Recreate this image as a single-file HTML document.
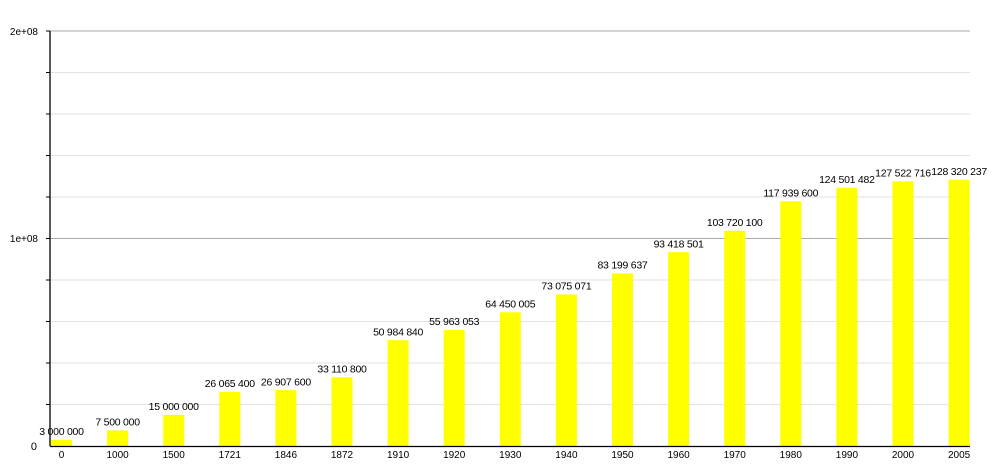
<!DOCTYPE html>
<html><head><meta charset="utf-8"><style>
html,body{margin:0;padding:0;background:#fff;}
svg{display:block;font-family:"Liberation Sans",Arial,sans-serif;}
</style></head><body>
<svg width="1000" height="475" viewBox="0 0 1000 475" xmlns="http://www.w3.org/2000/svg">
<g stroke="#e2e2e2" stroke-width="1">
<line x1="50" y1="404.5" x2="970" y2="404.5"/>
<line x1="50" y1="363" x2="970" y2="363"/>
<line x1="50" y1="321.5" x2="970" y2="321.5"/>
<line x1="50" y1="280" x2="970" y2="280"/>
<line x1="50" y1="197" x2="970" y2="197"/>
<line x1="50" y1="155.5" x2="970" y2="155.5"/>
<line x1="50" y1="114" x2="970" y2="114"/>
<line x1="50" y1="72.5" x2="970" y2="72.5"/>
</g>
<g stroke="#aaa" stroke-width="1">
<line x1="50" y1="238.5" x2="970" y2="238.5"/>
<line x1="50" y1="31" x2="970" y2="31"/>
</g>
<g stroke="#000" stroke-width="1">
<line x1="46" y1="31" x2="50" y2="31"/>
<line x1="46" y1="72.5" x2="50" y2="72.5"/>
<line x1="46" y1="114" x2="50" y2="114"/>
<line x1="46" y1="155.5" x2="50" y2="155.5"/>
<line x1="46" y1="197" x2="50" y2="197"/>
<line x1="46" y1="238.5" x2="50" y2="238.5"/>
<line x1="46" y1="280" x2="50" y2="280"/>
<line x1="46" y1="321.5" x2="50" y2="321.5"/>
<line x1="46" y1="363" x2="50" y2="363"/>
<line x1="46" y1="404.5" x2="50" y2="404.5"/>
</g>
<g fill="#ffff00">
<rect x="51" y="439.8" width="21" height="6.2"/>
<rect x="107.1" y="430.4" width="21" height="15.6"/>
<rect x="163.2" y="414.9" width="21" height="31.1"/>
<rect x="219.3" y="391.9" width="21" height="54.1"/>
<rect x="275.4" y="390.2" width="21" height="55.8"/>
<rect x="331.5" y="377.3" width="21" height="68.7"/>
<rect x="387.6" y="340.2" width="21" height="105.8"/>
<rect x="443.7" y="329.9" width="21" height="116.1"/>
<rect x="499.8" y="312.3" width="21" height="133.7"/>
<rect x="555.9" y="294.4" width="21" height="151.6"/>
<rect x="612" y="273.4" width="21" height="172.6"/>
<rect x="668.1" y="252.2" width="21" height="193.8"/>
<rect x="724.2" y="230.8" width="21" height="215.2"/>
<rect x="780.3" y="201.3" width="21" height="244.7"/>
<rect x="836.4" y="187.7" width="21" height="258.3"/>
<rect x="892.5" y="181.4" width="21" height="264.6"/>
<rect x="948.6" y="179.7" width="21" height="266.3"/>
</g>
<g font-size="10.5" letter-spacing="-0.25" text-anchor="middle" fill="#000">
<text x="61.5" y="435">3 000 000</text>
<text x="117.6" y="425.5">7 500 000</text>
<text x="173.7" y="410">15 000 000</text>
<text x="229.8" y="387">26 065 400</text>
<text x="285.9" y="385.5">26 907 600</text>
<text x="342" y="372.5">33 110 800</text>
<text x="398.1" y="335.5">50 984 840</text>
<text x="454.2" y="325">55 963 053</text>
<text x="510.3" y="307.5">64 450 005</text>
<text x="566.4" y="289.5">73 075 071</text>
<text x="622.5" y="268.5">83 199 637</text>
<text x="678.6" y="247.5">93 418 501</text>
<text x="734.7" y="226">103 720 100</text>
<text x="790.8" y="196.5">117 939 600</text>
<text x="846.9" y="183">124 501 482</text>
<text x="903" y="176.5">127 522 716</text>
<text x="959.1" y="175">128 320 237</text>
</g>
<g font-size="10" text-anchor="middle" fill="#000">
<text x="61.5" y="458">0</text>
<text x="117.6" y="458">1000</text>
<text x="173.7" y="458">1500</text>
<text x="229.8" y="458">1721</text>
<text x="285.9" y="458">1846</text>
<text x="342" y="458">1872</text>
<text x="398.1" y="458">1910</text>
<text x="454.2" y="458">1920</text>
<text x="510.3" y="458">1930</text>
<text x="566.4" y="458">1940</text>
<text x="622.5" y="458">1950</text>
<text x="678.6" y="458">1960</text>
<text x="734.7" y="458">1970</text>
<text x="790.8" y="458">1980</text>
<text x="846.9" y="458">1990</text>
<text x="903" y="458">2000</text>
<text x="959.1" y="458">2005</text>
</g>
<line x1="50" y1="31" x2="50" y2="446" stroke="#000" stroke-width="1.3"/>
<line x1="50" y1="446.5" x2="970" y2="446.5" stroke="#000" stroke-width="1.3"/>
<text x="38" y="35" font-size="10" text-anchor="end">2e+08</text>
<text x="38" y="242" font-size="10" text-anchor="end">1e+08</text>
<text x="37" y="450" font-size="11" text-anchor="end">0</text>
</svg>
</body></html>
